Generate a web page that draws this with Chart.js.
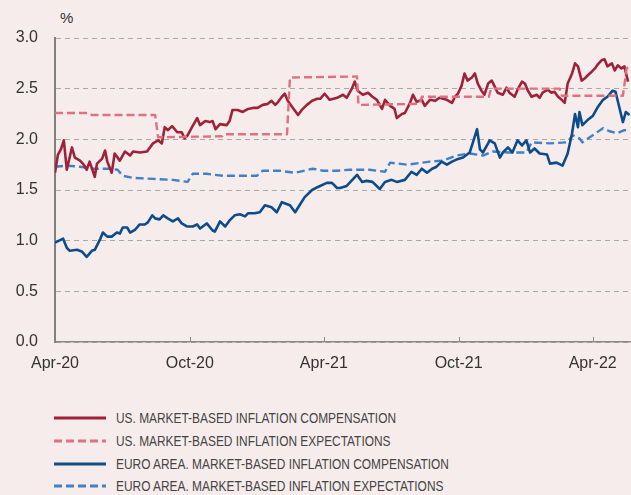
<!DOCTYPE html>
<html><head><meta charset="utf-8">
<script src="https://cdn.jsdelivr.net/npm/chart.js@4"></script>
<style>
html,body{margin:0;padding:0;background:#f7ecec;width:631px;height:495px;overflow:hidden;font-family:"Liberation Sans",Arial,sans-serif;}
#wrap{position:absolute;left:0;top:0;width:631px;height:385px;}
#unit{position:absolute;left:60px;top:9px;font-size:15px;color:#333;}
#legend{position:absolute;left:54px;top:407px;}
.item{display:flex;align-items:center;height:22.7px;}
.item svg{width:52px;height:6px;margin-right:10px;flex:none;}
.item span{font-family:"Liberation Sans Narrow","Arial Narrow",sans-serif;font-size:15.5px;color:#444;white-space:nowrap;display:inline-block;transform-origin:left center;}
</style></head>
<body>
<div id="unit">%</div>
<div id="wrap"><canvas id="c" width="631" height="385"></canvas></div>
<div id="legend"></div>
<script>
// x positions are days since 1 April 2020
const tickDays = [0, 183, 365, 548, 730];
const tickLabels = ['Apr-20', 'Oct-20', 'Apr-21', 'Oct-21', 'Apr-22'];
const yTicks = [0, 0.5, 1, 1.5, 2, 2.5, 3];
const seriesNames = [
  'US. MARKET-BASED INFLATION COMPENSATION',
  'US. MARKET-BASED INFLATION EXPECTATIONS',
  'EURO AREA. MARKET-BASED INFLATION COMPENSATION',
  'EURO AREA. MARKET-BASED INFLATION EXPECTATIONS'
];

const usCompDays = [0,4,8,12,16,23,27,34,39,43,47,54,57,64,68,71,77,81,88,95,102,106,115,125,133,140,145,149,153,159,166,172,176,180,186,193,197,204,210,214,218,224,233,237,241,248,255,262,269,275,282,289,294,299,303,308,312,316,323,330,335,342,349,356,360,366,373,383,391,396,403,407,411,418,425,431,437,444,448,455,461,464,471,475,482,486,491,498,502,509,516,522,532,539,543,547,552,556,560,566,570,574,579,583,588,593,597,601,608,613,617,624,628,634,638,642,647,654,658,662,669,674,678,683,688,692,696,702,706,710,715,719,723,729,733,737,742,746,750,756,760,764,769,773,778];
const usCompValues = [1.67,1.85,1.90,1.99,1.70,1.92,1.82,1.79,1.75,1.70,1.78,1.63,1.76,1.81,1.89,1.78,1.67,1.86,1.79,1.88,1.84,1.88,1.87,1.88,1.96,1.99,1.96,2.12,2.09,2.13,2.07,2.07,2.01,2.04,2.12,2.21,2.14,2.18,2.17,2.18,2.10,2.15,2.14,2.18,2.29,2.29,2.27,2.30,2.31,2.31,2.34,2.35,2.38,2.34,2.37,2.42,2.45,2.38,2.31,2.24,2.29,2.34,2.38,2.40,2.40,2.45,2.39,2.41,2.44,2.41,2.50,2.57,2.48,2.44,2.46,2.42,2.39,2.30,2.39,2.33,2.30,2.21,2.25,2.26,2.36,2.44,2.37,2.39,2.33,2.39,2.38,2.41,2.39,2.36,2.42,2.45,2.53,2.65,2.58,2.61,2.65,2.55,2.48,2.44,2.55,2.58,2.52,2.46,2.44,2.51,2.46,2.42,2.49,2.57,2.55,2.48,2.42,2.44,2.41,2.46,2.49,2.46,2.47,2.42,2.39,2.36,2.55,2.65,2.75,2.72,2.58,2.60,2.63,2.67,2.70,2.74,2.78,2.79,2.72,2.75,2.68,2.73,2.70,2.72,2.57];

const usExpDays = [0,45,50,136,140,227,229,315,319,410,412,495,498,589,592,685,688,771,776,780];
const usExpValues = [2.26,2.26,2.24,2.24,2.02,2.03,2.05,2.05,2.61,2.62,2.34,2.35,2.42,2.42,2.50,2.50,2.43,2.43,2.70,2.72];

const euCompDays = [0,11,16,20,30,37,43,50,54,61,65,71,77,84,88,92,98,102,109,115,122,126,132,136,142,147,153,160,167,172,179,187,193,197,206,214,217,224,231,237,244,251,258,262,271,278,285,294,301,308,319,326,332,339,349,357,369,376,383,387,396,410,417,423,431,441,448,457,464,475,484,491,498,505,512,518,525,532,539,545,554,563,567,573,577,581,588,590,597,604,608,615,621,628,634,640,645,651,658,668,672,681,689,696,702,706,710,712,716,723,730,737,744,750,757,761,767,771,775,780];
const euCompValues = [0.98,1.02,0.93,0.90,0.91,0.89,0.84,0.90,0.91,1.01,1.08,1.04,1.04,1.08,1.07,1.13,1.13,1.08,1.11,1.16,1.16,1.18,1.25,1.22,1.21,1.25,1.22,1.19,1.22,1.17,1.14,1.14,1.16,1.12,1.17,1.10,1.09,1.19,1.14,1.20,1.25,1.26,1.24,1.27,1.27,1.28,1.35,1.33,1.28,1.38,1.35,1.28,1.35,1.43,1.50,1.53,1.57,1.57,1.52,1.52,1.54,1.65,1.58,1.59,1.58,1.51,1.58,1.60,1.58,1.60,1.68,1.65,1.71,1.67,1.71,1.73,1.78,1.75,1.78,1.80,1.82,1.87,1.96,2.10,1.90,1.87,1.96,1.99,1.96,1.82,1.87,1.92,1.87,1.99,1.94,1.99,1.87,1.91,1.86,1.85,1.76,1.77,1.74,1.86,2.06,2.25,2.12,2.27,2.14,2.19,2.23,2.32,2.39,2.42,2.48,2.47,2.29,2.17,2.27,2.24];

const euExpDays = [0,16,34,52,75,85,92,106,133,160,180,187,206,228,274,282,305,326,350,364,383,400,427,448,455,478,509,526,545,563,581,594,617,640,647,672,695,703,712,716,726,744,753,763,773,780];
const euExpValues = [1.73,1.74,1.73,1.71,1.71,1.70,1.64,1.62,1.61,1.60,1.58,1.66,1.66,1.64,1.64,1.69,1.69,1.67,1.71,1.69,1.69,1.70,1.70,1.68,1.77,1.75,1.78,1.79,1.84,1.86,1.84,1.88,1.87,1.87,1.97,1.96,1.97,2.04,2.01,1.97,2.02,2.11,2.08,2.06,2.09,2.09];

const colors = ['#9e2339', '#de707f', '#0d4c89', '#3f80c8'];
const dashes = [[], [8, 4], [], [8, 4]];

function pts(days, vals) { return days.map((d, i) => ({ x: d, y: vals[i] })); }

const datasets = [
  { label: seriesNames[0], data: pts(usCompDays, usCompValues), borderColor: colors[0], borderWidth: 2.6, borderDash: dashes[0], order: 2 },
  { label: seriesNames[1], data: pts(usExpDays, usExpValues), borderColor: colors[1], borderWidth: 2.4, borderDash: dashes[1], order: 1 },
  { label: seriesNames[2], data: pts(euCompDays, euCompValues), borderColor: colors[2], borderWidth: 2.6, borderDash: dashes[2], order: 3 },
  { label: seriesNames[3], data: pts(euExpDays, euExpValues), borderColor: colors[3], borderWidth: 2.4, borderDash: dashes[3], order: 4 }
];

const innerTicks = {
  id: 'innerTicks',
  afterDatasetsDraw(chart) {
    const x = chart.scales.x, a = chart.chartArea, ctx = chart.ctx;
    ctx.save();
    ctx.strokeStyle = '#8a8a8a';
    ctx.lineWidth = 1;
    tickDays.slice(1).forEach(d => {
      const px = Math.round(x.getPixelForValue(d)) + 0.5;
      ctx.beginPath(); ctx.moveTo(px, a.bottom); ctx.lineTo(px, a.bottom - 5); ctx.stroke();
    });
    ctx.restore();
  }
};

new Chart(document.getElementById('c'), {
  type: 'line',
  data: { datasets },
  plugins: [innerTicks],
  options: {
    responsive: false, animation: false, maintainAspectRatio: false,
    layout: { padding: { top: 38, left: 0, right: 0, bottom: 0 } },
    plugins: { legend: { display: false }, tooltip: { enabled: false } },
    elements: { point: { radius: 0 }, line: { tension: 0, borderJoinStyle: 'round', fill: false } },
    scales: {
      x: {
        type: 'linear', min: 0, max: 782,
        afterBuildTicks: s => { s.ticks = tickDays.map(v => ({ value: v })); },
        afterFit: s => { s.height = 43; },
        ticks: { autoSkip: false, maxRotation: 0, padding: 12, color: '#333',
          font: { size: 16, family: '"Liberation Sans", Arial, sans-serif' },
          callback: v => { const i = tickDays.indexOf(v); return i >= 0 ? tickLabels[i] : ''; } },
        grid: { display: false, drawTicks: false },
        border: { display: true, color: '#8a8a8a', width: 1.5 }
      },
      y: {
        min: 0, max: 3,
        afterBuildTicks: s => { s.ticks = yTicks.map(v => ({ value: v })); },
        afterFit: s => { s.width = 55; },
        ticks: { padding: 17, color: '#333',
          font: { size: 16, family: '"Liberation Sans", Arial, sans-serif' },
          callback: v => Number(v).toFixed(1) },
        grid: { color: '#a9a9a9', lineWidth: 1, drawTicks: false },
        border: { display: true, color: '#808080', width: 2, dash: [5, 4] }
      }
    }
  }
});

// HTML legend
const leg = document.getElementById('legend');
seriesNames.forEach((name, i) => {
  const row = document.createElement('div');
  row.className = 'item';
  const dash = dashes[i].length ? dashes[i].join(' ') : 'none';
  row.innerHTML = '<svg viewBox="0 0 52 6"><line x1="0" y1="3" x2="52" y2="3" stroke="' + colors[i] +
    '" stroke-width="3" stroke-dasharray="' + dash + '"/></svg>';
  const sp = document.createElement('span');
  sp.textContent = name;
  row.appendChild(sp);
  leg.appendChild(row);
});
// fit legend text to the reference width (first label spans ~280px)
const first = leg.querySelector('span');
const w = first.getBoundingClientRect().width;
if (w > 0) {
  const k = 280 / w;
  leg.querySelectorAll('span').forEach(s => { s.style.transform = 'scaleX(' + k.toFixed(3) + ')'; });
}
</script>
</body></html>
